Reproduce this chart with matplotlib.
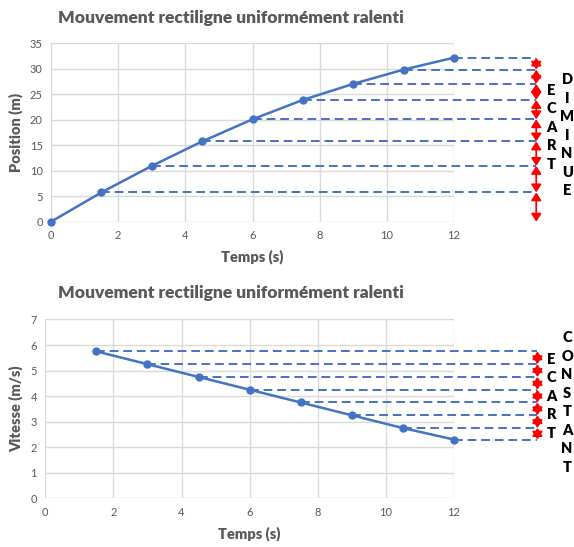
import matplotlib
matplotlib.use("Agg")
import matplotlib.pyplot as plt

# Mesures
temps = [0, 1.5, 3, 4.5, 6, 7.5, 9, 10.5, 12]
position = [0, 5.75, 10.95, 15.75, 20.1, 23.9, 27.05, 29.85, 32.2]
temps_v = [1.5, 3, 4.5, 6, 7.5, 9, 10.5, 12]
vitesse = [5.75, 5.25, 4.75, 4.25, 3.75, 3.25, 2.75, 2.3]

titre = "Mouvement rectiligne uniformément ralenti"
bleu = "#4472C4"
gris = "#595959"
x_fleche = 14.45

plt.rcParams["font.family"] = ["Lato", "DejaVu Sans"]

fig = plt.figure(figsize=(5.74, 5.47), dpi=100)
ax1 = fig.add_axes([0.0889, 0.5947, 0.702, 0.326])
ax2 = fig.add_axes([0.0789, 0.0890, 0.712, 0.327])


def habiller(ax, ymax, ylabel):
    ax.set_xlim(0, 12)
    ax.set_ylim(0, ymax)
    ax.set_xticks(range(0, 13, 2))
    for s in ax.spines.values():
        s.set_visible(False)
    ax.grid(True, color="#d9d9d9", linewidth=1)
    ax.set_axisbelow(True)
    ax.tick_params(length=0, labelsize=8, labelcolor=gris, pad=6)
    ax.set_xlabel("Temps (s)", fontsize=10.5, fontweight="heavy", color=gris, labelpad=6)
    ax.set_ylabel(ylabel, fontsize=10.5, fontweight="heavy", color=gris, labelpad=5)


def traits(ax, xs, ys):
    ax.plot(xs, ys, color=bleu, lw=1.8, marker="o", ms=5, zorder=4, clip_on=False)
    for x, y in zip(xs, ys):
        if y == 0:
            continue
        ax.plot([x, x_fleche], [y, y], color=bleu, lw=1.4, ls=(0, (4.5, 2.5)),
                clip_on=False, zorder=3)


def fleches(ax, ys):
    niveaux = sorted(ys)
    for a, b in zip(niveaux[:-1], niveaux[1:]):
        ax.annotate("", xy=(x_fleche, b), xytext=(x_fleche, a), annotation_clip=False,
                    arrowprops=dict(arrowstyle="<|-|>,head_length=0.46,head_width=0.3",
                                    color="red", lw=1.3, shrinkA=0, shrinkB=0))


def colonne(x, y, mot):
    fig.text(x, y, "\n".join(mot), ha="center", va="center", fontsize=10.5,
             fontweight="heavy", color="black", linespacing=1.5)


# Position
habiller(ax1, 35, "Position (m)")
ax1.set_yticks(range(0, 36, 5))
traits(ax1, temps, position)
fleches(ax1, position)
fig.text(0.403, 0.967, titre, ha="center", va="center", fontsize=12.5,
         fontweight="heavy", color=gris)
colonne(0.961, 0.767, "ECART")
colonne(0.988, 0.753, "DIMINUE")

# Vitesse
habiller(ax2, 7, "Vitesse (m/s)")
ax2.set_yticks(range(0, 8))
traits(ax2, temps_v, vitesse)
fleches(ax2, vitesse)
fig.text(0.403, 0.464, titre, ha="center", va="center", fontsize=12.5,
         fontweight="heavy", color=gris)
colonne(0.961, 0.276, "ECART")
colonne(0.988, 0.264, "CONSTANT")

fig.savefig("out.png", dpi=100)
